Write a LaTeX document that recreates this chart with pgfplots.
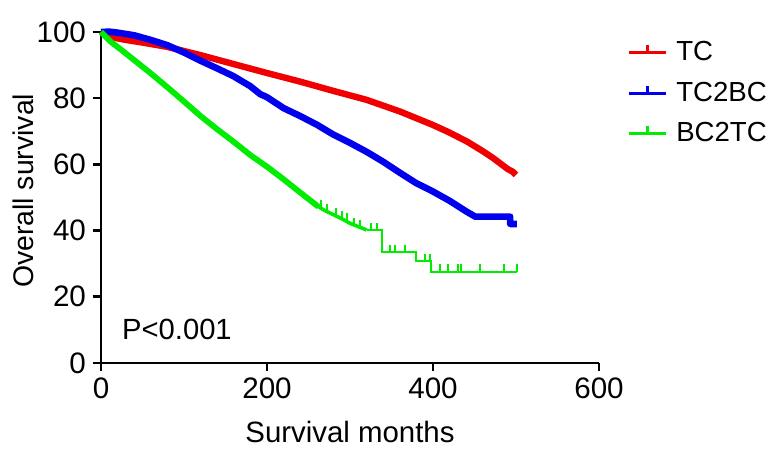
\documentclass[border=0pt]{standalone}
\usepackage{fontspec}
\setmainfont{Liberation Sans}
\usepackage{pgfplots}
\pgfplotsset{compat=1.18}
\definecolor{kmred}{RGB}{240,0,0}
\definecolor{kmblue}{RGB}{0,0,238}
\definecolor{kmgreen}{RGB}{0,236,0}
\pgfdeclareplotmark{cens}{\pgfpathmoveto{\pgfqpoint{0pt}{0pt}}\pgfpathlineto{\pgfqpoint{0pt}{3.6pt}}\pgfusepathqstroke}
\pgfplotsset{censleg/.style={legend image code/.code={\draw[##1] (0pt,0pt) -- (18.5pt,0pt); \draw[##1] (9.5pt,0pt) -- (9.5pt,3.8pt); \path (21pt,0pt);}}}
\newcommand\fs{\fontsize{14.6}{17}\selectfont}
\begin{document}
\begin{tikzpicture}
\begin{axis}[
  scale only axis, width=249pt, height=165.5pt,
  xmin=0, xmax=600, ymin=0, ymax=100,
  axis x line=bottom, axis y line=left,
  axis line style={-, line width=1.3pt, black},
  xtick={0,200,400,600}, ytick={0,20,40,60,80,100},
  tick align=outside, major tick length=4pt,
  tick style={line width=1.3pt, black},
  /pgf/number format/assume math mode=true,
  tick label style={font=\fontsize{14.8}{17}\selectfont},
  xlabel={Survival months}, ylabel={Overall survival},
  xlabel style={font=\fontsize{14.7}{17}\selectfont, at={(axis description cs:0.5,-0.2085)}, anchor=center},
  ylabel style={font=\fontsize{14.2}{17}\selectfont, at={(axis description cs:-0.155,0.52)}, anchor=center},
  clip=false,
  legend style={at={(axis description cs:1.044,0.996)}, anchor=north west,
    draw=none, fill=none, font=\fontsize{13.8}{16}\selectfont, row sep=5pt},
  legend cell align=left,
]
\coordinate (o) at (rel axis cs:0,0);
% TC
\addplot[kmred, line width=3.2pt, line join=round, forget plot] coordinates {
(0,100) (5,99.2) (15,98.3) (30,97.6) (50,96.8) (80,95.5) (120,93.0) (160,90.3)
(200,87.6) (240,85.0) (280,82.2) (320,79.5) (360,76.0) (400,71.9) (420,69.6)
(441,66.9) (460,64.0) (472,62.0) (481,60.3) (490,58.6) (496,57.8) (500,56.8)};
% TC2BC
\addplot[kmblue, line width=3.3pt, line join=round, forget plot] coordinates {
(0,100) (10,100.1) (20,99.8) (40,99.0) (60,97.6) (80,96.0) (100,93.8) (120,91.3)
(140,89.0) (160,86.6) (180,83.6) (192,81.2) (200,80.3) (220,77.0) (240,74.6)
(260,72.0) (280,69.0) (300,66.5) (320,63.8) (340,60.8) (360,57.5) (380,54.3)
(400,51.8) (420,49.0) (440,45.8) (451,44.2) (493,44.2) (493,42.0) (501,42.0)};
% BC2TC dense part
\addplot[kmgreen, line width=2.9pt, line join=round, forget plot] coordinates {
(0,100) (12,97.0) (25,94.5) (40,91.5) (60,87.5) (80,83.3) (100,79.0) (120,74.6)
(140,70.6) (160,66.8) (180,62.8) (200,59.3) (220,55.5) (240,51.5) (262,47.2)};
\addplot[kmgreen, line width=1.8pt, line join=round, forget plot] coordinates {
(260,47.5) (270,46.0) (280,44.8) (290,43.6) (300,42.2) (310,41.2) (320,40.2)};
% BC2TC tail
\addplot[kmgreen, line width=1pt, const plot, forget plot] coordinates {
(320,40.2) (338,33.4) (379,30.9) (398,27.6) (501,27.6)};
\addplot[kmgreen, only marks, mark=cens, mark options={line width=1pt}, forget plot] coordinates {
(265,47) (272,46) (283,44.5) (290,43.8) (296,43) (305,41.5) (312,41) (325,40.2) (332,40.2)
(348,33.4) (354,33.4) (366,33.4) (390,30.9) (396,30.9)
(408,27.6) (418,27.6) (430,27.6) (434,27.6) (457,27.6) (485,27.6) (501,27.6)};
\node[anchor=west, font=\fs, inner sep=0pt] at (axis cs:25,10) {P<0.001};
\addlegendimage{kmred, line width=1.5pt, censleg}
\addlegendentry{TC}
\addlegendimage{kmblue, line width=1.5pt, censleg}
\addlegendentry{TC2BC}
\addlegendimage{kmgreen, line width=1.5pt, censleg}
\addlegendentry{BC2TC}
\end{axis}
\pgfresetboundingbox
\path ([shift={(-50.5pt,-45pt)}]o) rectangle ([shift={(338pt,181.5pt)}]o);
\end{tikzpicture}
\end{document}
